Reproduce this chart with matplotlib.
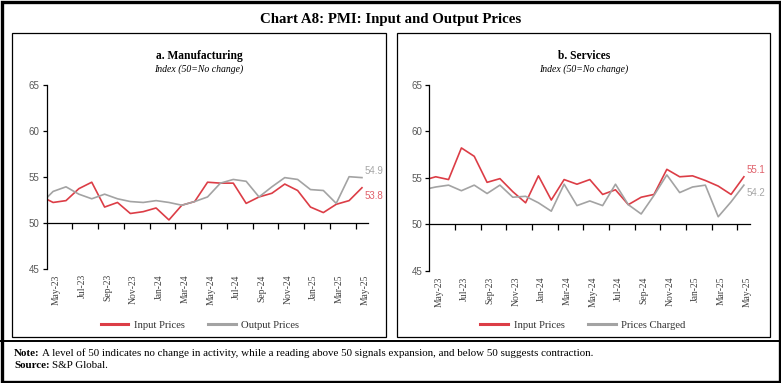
import numpy as np
import matplotlib
matplotlib.use('Agg')
import matplotlib.pyplot as plt
from matplotlib.patches import Rectangle
from matplotlib.lines import Line2D

# months, the first (Apr-23) is only partly visible at the axis edge
months = ['Apr-23', 'May-23', 'Jun-23', 'Jul-23', 'Aug-23', 'Sep-23', 'Oct-23', 'Nov-23',
          'Dec-23', 'Jan-24', 'Feb-24', 'Mar-24', 'Apr-24', 'May-24', 'Jun-24', 'Jul-24',
          'Aug-24', 'Sep-24', 'Oct-24', 'Nov-24', 'Dec-24', 'Jan-25', 'Feb-25', 'Mar-25',
          'Apr-25', 'May-25']

mfg_input = [52.9, 52.2, 52.4, 53.7, 54.4, 51.7, 52.2, 51.0, 51.2, 51.6, 50.3, 51.9, 52.3,
             54.4, 54.3, 54.3, 52.1, 52.8, 53.2, 54.2, 53.5, 51.7, 51.1, 52.0, 52.4, 53.8]
mfg_output = [52.0, 53.4, 53.9, 53.1, 52.6, 53.1, 52.6, 52.3, 52.2, 52.4, 52.2, 51.9, 52.3,
              52.8, 54.3, 54.7, 54.5, 52.8, 53.9, 54.9, 54.7, 53.6, 53.5, 52.1, 55.0, 54.9]
svc_input = [54.7, 55.1, 54.8, 58.2, 57.3, 54.5, 54.9, 53.5, 52.3, 55.2, 52.6, 54.8, 54.3,
             54.8, 53.2, 53.7, 52.1, 52.9, 53.2, 55.9, 55.1, 55.2, 54.7, 54.1, 53.2, 55.1]
svc_charged = [53.7, 54.0, 54.2, 53.6, 54.2, 53.3, 54.2, 52.9, 53.0, 52.3, 51.4, 54.3, 52.0,
               52.5, 52.0, 54.3, 52.1, 51.1, 53.1, 55.3, 53.4, 54.0, 54.2, 50.8, 52.4, 54.2]

W, H = 781, 383
RED = '#dc3d46'
GREY = '#a3a3a3'
SERIF = 'Liberation Serif'
SANS = 'Liberation Sans'


def fx(x):
    return x / W


def fy(y):
    return 1 - y / H


fig = plt.figure(figsize=(W / 100, H / 100), dpi=100)

# outer frame, panel boxes and the rule above the notes
fig.patches.append(Rectangle((fx(1.5), fy(381.5)), fx(778), 380 / H,
                             transform=fig.transFigure, fill=False, lw=2.4, ec='black'))
for x0, x1 in [(12, 386), (397, 770)]:
    fig.patches.append(Rectangle((fx(x0), fy(337)), fx(x1 - x0), (337 - 33) / H,
                                 transform=fig.transFigure, fill=False, lw=0.9, ec='black'))
fig.lines.append(Line2D([0, 1], [fy(340.5), fy(340.5)], transform=fig.transFigure,
                        color='black', lw=1.4))

fig.text(0.5, fy(19), 'Chart A8: PMI: Input and Output Prices', ha='center', va='center',
         fontsize=10.7, fontweight='bold', family=SERIF)


def bold_lead(x, y, lead, rest, size=7.9):
    t = fig.text(fx(x), fy(y), lead, fontsize=size, family=SERIF, fontweight='bold',
                 va='center')
    fig.canvas.draw()
    bb = t.get_window_extent()
    fig.text(bb.x1 / fig.bbox.width + 0.003, fy(y), rest, fontsize=size, family=SERIF,
             va='center')


bold_lead(14, 353, 'Note:', 'A level of 50 indicates no change in activity, while a reading above '
          '50 signals expansion, and below 50 suggests contraction.')
bold_lead(14, 366, 'Source:', 'S&P Global.')

x = np.arange(len(months)) - 1
panels = [
    dict(rect=[fx(46.7), fy(268.7), fx(321.7), (268.7 - 84.7) / H], title='a. Manufacturing',
         cx=199, s1=mfg_input, s2=mfg_output, n2='Output Prices', lx=200),
    dict(rect=[fx(429.3), fy(270.7), fx(321), (270.7 - 84.7) / H], title='b. Services',
         cx=584, s1=svc_input, s2=svc_charged, n2='Prices Charged', lx=583),
]

for p in panels:
    ax = fig.add_axes(p['rect'])
    ax.plot(x, p['s1'], color=RED, lw=1.2, label='Input Prices')
    ax.plot(x, p['s2'], color=GREY, lw=1.2, label=p['n2'])
    ax.set_xlim(-0.5, 24.5)
    ax.set_ylim(45, 65)
    ax.spines['top'].set_visible(False)
    ax.spines['right'].set_visible(False)
    ax.spines['bottom'].set_position(('data', 50))
    ax.spines['left'].set_linewidth(0.9)
    ax.spines['bottom'].set_linewidth(0.9)
    ax.set_yticks([45, 50, 55, 60, 65])
    ax.tick_params(axis='y', length=3, width=0.9, labelsize=7, labelcolor='#595959', pad=2)
    for lbl in ax.get_yticklabels():
        lbl.set_family(SANS)
    # ticks sit on category boundaries, labels on every second month
    ax.set_xticks(np.arange(1.5, 24, 2))
    ax.tick_params(axis='x', length=4, width=0.9, labelbottom=False, direction='out')
    for k in range(0, 25, 2):
        ax.text(k + 0.25, -0.03, months[k + 1], transform=ax.get_xaxis_transform(),
                rotation=90, ha='center', va='top', fontsize=6.9, family=SERIF, color='#404040')
    ax.patch.set_alpha(0)

    # end labels
    v1, v2 = p['s1'][-1], p['s2'][-1]
    up1 = v1 > v2
    ax.annotate(f'{v1:.1f}', (24, v1), xytext=(2, 5 if up1 else -6), textcoords='offset points',
                fontsize=7, color='#e0606a', family=SANS, va='center', ha='left')
    ax.annotate(f'{v2:.1f}', (24, v2), xytext=(2, 5 if not up1 else -6),
                textcoords='offset points', fontsize=7, color='#a6a6a6', family=SANS,
                va='center', ha='left')

    fig.text(fx(p['cx']), fy(56), p['title'], ha='center', va='center', fontsize=8.3,
             fontweight='bold', family=SERIF)
    fig.text(fx(p['cx']), fy(69), 'Index (50=No change)', ha='center', va='center', fontsize=7,
             style='italic', family=SERIF)

    leg = fig.legend(handles=ax.get_lines(), loc='center', ncol=2, frameon=False,
                     bbox_to_anchor=(fx(p['lx']), fy(325)),
                     prop=dict(family=SERIF, size=7.7), handlelength=2.6, columnspacing=2.2,
                     handletextpad=0.5)
    for t in leg.get_texts():
        t.set_color('#333333')
    for h in leg.legend_handles:
        h.set_linewidth(2.2)

fig.savefig('out.png', dpi=100)
